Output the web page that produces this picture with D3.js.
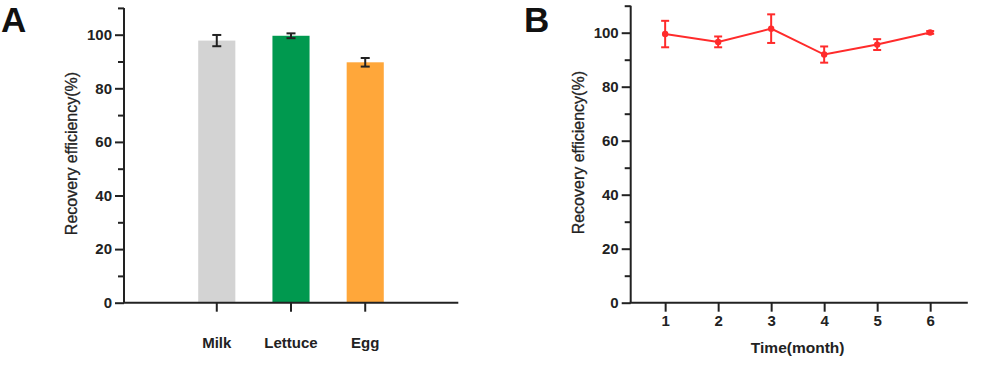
<!DOCTYPE html>
<html><head><meta charset="utf-8">
<script src="https://cdn.jsdelivr.net/npm/d3@7/dist/d3.min.js"></script>
<style>
body{margin:0;background:#fff;}
svg{display:block;font-family:"Liberation Sans",Arial,sans-serif;}
</style></head><body>
<svg id="c" width="989" height="370"></svg>
<script>
// Panel A data
const foods = ["Milk","Lettuce","Egg"];
const foodValues = [97.8, 99.6, 89.7];
const foodErrors = [2.1, 0.9, 1.6];
const foodColors = ["#d3d3d3","#00994f","#ffa73a"];
// Panel B data
const months = [1,2,3,4,5,6];
const monthValues = [99.5, 96.6, 101.5, 91.9, 95.6, 100.1];
const monthErrors = [4.9, 2.0, 5.3, 3.0, 2.0, 0.5];
const yMajor = [0,20,40,60,80,100];
const yMinor = [10,30,50,70,90,110];
const yTitle = "Recovery efficiency(%)";
const xTitleB = "Time(month)";

const svg = d3.select("#c");
const axisColor = "#222";
const tickFont = "15px";

function yAxis(g, y, x0){
  g.append("line").attr("x1",x0).attr("x2",x0).attr("y1",y(0)).attr("y2",y(110))
    .attr("stroke",axisColor).attr("stroke-width",2);
  const ax = g.append("g").attr("transform",`translate(${x0},0)`)
    .call(d3.axisLeft(y).tickValues(yMajor).tickSize(9).tickSizeOuter(0).tickPadding(3));
  ax.select(".domain").remove();
  ax.selectAll(".tick line").attr("stroke",axisColor).attr("stroke-width",2);
  ax.selectAll(".tick text").attr("fill","#222").style("font-size",tickFont).style("font-weight","bold").attr("font-family",null);
  const mn = g.append("g").attr("transform",`translate(${x0},0)`)
    .call(d3.axisLeft(y).tickValues(yMinor).tickSize(6).tickFormat(""));
  mn.select(".domain").remove();
  mn.selectAll(".tick line").attr("stroke",axisColor).attr("stroke-width",2);
}

// ---------- Panel A ----------
const gA = svg.append("g");
const xA = d3.scaleBand().domain(foods).range([124,458]).paddingInner(0.5).paddingOuter(1.0);
const yA = d3.scaleLinear().domain([0,110]).range([302.7,7.9]);

gA.selectAll("rect.bar").data(foods).join("rect").attr("class","bar")
  .attr("x",d=>xA(d)).attr("width",xA.bandwidth())
  .attr("y",(d,i)=>yA(foodValues[i])).attr("height",(d,i)=>yA(0)-yA(foodValues[i]))
  .attr("fill",(d,i)=>foodColors[i]);

const ebA = gA.selectAll("g.eb").data(foods).join("g").attr("class","eb");
ebA.append("line").attr("x1",d=>xA(d)+xA.bandwidth()/2).attr("x2",d=>xA(d)+xA.bandwidth()/2)
  .attr("y1",(d,i)=>yA(foodValues[i]+foodErrors[i])).attr("y2",(d,i)=>yA(foodValues[i]-foodErrors[i]))
  .attr("stroke","#222").attr("stroke-width",2);
[1,-1].forEach(s=>{
  ebA.append("line").attr("x1",d=>xA(d)+xA.bandwidth()/2-4.5).attr("x2",d=>xA(d)+xA.bandwidth()/2+4.5)
    .attr("y1",(d,i)=>yA(foodValues[i]+s*foodErrors[i])).attr("y2",(d,i)=>yA(foodValues[i]+s*foodErrors[i]))
    .attr("stroke","#222").attr("stroke-width",2);
});

yAxis(gA, yA, 124);
gA.append("line").attr("x1",123).attr("x2",458.3).attr("y1",yA(0)).attr("y2",yA(0))
  .attr("stroke",axisColor).attr("stroke-width",2);
const axA = gA.append("g").attr("transform",`translate(0,${yA(0)})`)
  .call(d3.axisBottom(xA).tickSize(9).tickSizeOuter(0).tickPadding(26));
axA.select(".domain").remove();
axA.selectAll(".tick line").attr("stroke",axisColor).attr("stroke-width",2);
axA.selectAll(".tick text").attr("fill","#222").style("font-size",tickFont).style("font-weight","bold").attr("font-family",null);

gA.append("text").attr("transform","translate(77,153.5) rotate(-90)").attr("text-anchor","middle")
  .style("font-size","16px").attr("fill","#222").attr("stroke","#222").attr("stroke-width",0.3).text(yTitle);
gA.append("text").attr("x",1).attr("y",32).style("font-size","35px").style("font-weight","bold").attr("fill","#111").text("A");

// ---------- Panel B ----------
const gB = svg.append("g");
const xB = d3.scaleLinear().domain([0.35,6.71]).range([630.7,967.8]);
const yB = d3.scaleLinear().domain([0,110]).range([302.7,5.7]);

yAxis(gB, yB, 630.7);
gB.append("line").attr("x1",629.7).attr("x2",967.8).attr("y1",yB(0)).attr("y2",yB(0))
  .attr("stroke",axisColor).attr("stroke-width",2);
const axB = gB.append("g").attr("transform",`translate(0,${yB(0)})`)
  .call(d3.axisBottom(xB).tickValues(months).tickFormat(d3.format("d")).tickSize(9).tickSizeOuter(0).tickPadding(4));
axB.select(".domain").remove();
axB.selectAll(".tick line").attr("stroke",axisColor).attr("stroke-width",2);
axB.selectAll(".tick text").attr("fill","#222").style("font-size",tickFont).style("font-weight","bold").attr("font-family",null);

const red = "#ff2b2b";
const line = d3.line().x((d,i)=>xB(months[i])).y(d=>yB(d));
gB.append("path").datum(monthValues).attr("d",line).attr("fill","none").attr("stroke",red).attr("stroke-width",2);
const ebB = gB.selectAll("g.ebb").data(months).join("g").attr("class","ebb");
ebB.append("line").attr("x1",d=>xB(d)).attr("x2",d=>xB(d))
  .attr("y1",(d,i)=>yB(monthValues[i]+monthErrors[i])).attr("y2",(d,i)=>yB(monthValues[i]-monthErrors[i]))
  .attr("stroke",red).attr("stroke-width",2);
[1,-1].forEach(s=>{
  ebB.append("line").attr("x1",d=>xB(d)-4).attr("x2",d=>xB(d)+4)
    .attr("y1",(d,i)=>yB(monthValues[i]+s*monthErrors[i])).attr("y2",(d,i)=>yB(monthValues[i]+s*monthErrors[i]))
    .attr("stroke",red).attr("stroke-width",2);
});
ebB.append("circle").attr("cx",d=>xB(d)).attr("cy",(d,i)=>yB(monthValues[i])).attr("r",3.2).attr("fill",red);

gB.append("text").attr("x",xB(3.5)).attr("y",353).attr("text-anchor","middle")
  .style("font-size","15.5px").style("font-weight","bold").attr("fill","#222").text(xTitleB);
gB.append("text").attr("transform","translate(584,152.7) rotate(-90)").attr("text-anchor","middle")
  .style("font-size","16px").attr("fill","#222").attr("stroke","#222").attr("stroke-width",0.3).text(yTitle);
gB.append("text").attr("x",524).attr("y",32).style("font-size","35px").style("font-weight","bold").attr("fill","#111").text("B");
</script>
</body></html>
